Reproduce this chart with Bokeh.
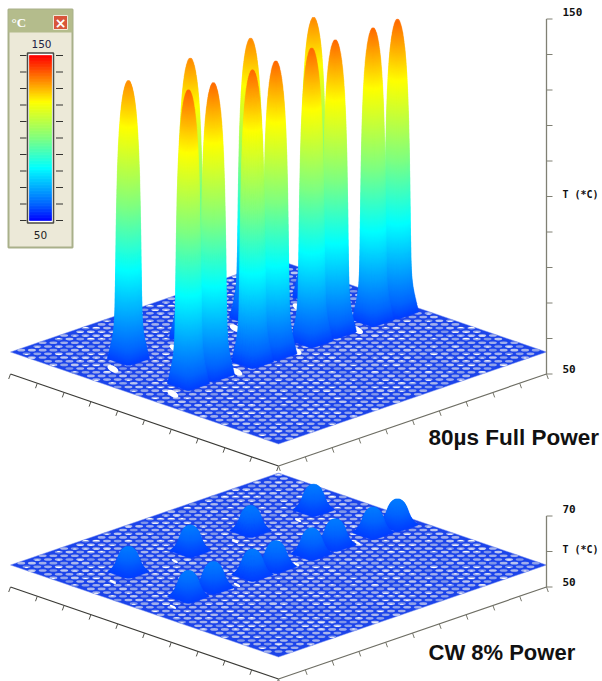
import numpy as np
from bokeh.plotting import figure
from bokeh.models import Range1d, ColumnDataSource
from bokeh.core.properties import value
from bokeh.embed import file_html
from bokeh.resources import INLINE

# ---------- data ----------
PEAK_U = [0.815, 0.586, 0.365, 0.134, 0.838, 0.743, 0.600, 0.513, 0.376, 0.283, 0.147, 0.059]
PEAK_V = [0.255, 0.257, 0.261, 0.265, 0.502, 0.500, 0.503, 0.503, 0.500, 0.495, 0.500, 0.503]
FULL_POWER_T = [134.6, 135.0, 135.0, 135.0, 139.0, 138.5, 138.5, 138.7, 138.7, 138.5, 138.5, 138.7]
CW_POWER_T = [63.2, 63.3, 63.2, 63.3, 63.4, 63.4, 63.3, 63.4, 63.4, 63.4, 63.3, 63.4]
FLOOR_T = 56.2
FULL_T_TICKS = [50, 60, 70, 80, 90, 100, 110, 120, 130, 140, 150]
CW_T_TICKS = [50, 60, 70]
FULL_LABELS = ["150", "T (*C)", "50"]
CW_LABELS = ["70", "T (*C)", "50"]
TITLE_FULL = "80µs Full Power"
TITLE_CW = "CW 8% Power"
CMAP_T = [50, 60, 82, 100, 122, 150]
CMAP_R = [0, 0, 0, 128, 255, 255]
CMAP_G = [0, 100, 255, 255, 255, 0]
CMAP_B = [255, 255, 255, 128, 0, 0]
BAR_TICKS = [50, 60, 70, 80, 90, 100, 110, 120, 130, 140, 150]
# peaks whose outer (left) base corner shows a gap in the mesh
GAP_PEAKS = [0, 1, 2, 3, 4, 6, 8, 10]

# ---------- projection set-up ----------
CX, HALF_W, HALF_H, PX_PER_C = 278.0, 268.0, 92.0, 3.55
BACK_FULL, BACK_CW = 259.5, 472.5
N_MESH = 50


def proj(u, v, t, back):
    return CX + (np.asarray(v) - u) * HALF_W, back + (np.asarray(u) + v) * HALF_H - (np.asarray(t) - FLOOR_T) * PX_PER_C


def color(t):
    r = np.interp(t, CMAP_T, CMAP_R)
    g = np.interp(t, CMAP_T, CMAP_G)
    b = np.interp(t, CMAP_T, CMAP_B)
    return "#%02x%02x%02x" % (int(r), int(g), int(b))


p = figure(width=602, height=681, x_range=Range1d(0, 602), y_range=Range1d(681, 0),
           output_backend="svg", toolbar_location=None, min_border=0,
           margin=(0, 0, 0, 0), outline_line_color=None,
           background_fill_color="white", border_fill_color="white")
p.xaxis.visible = False
p.yaxis.visible = False
p.grid.visible = False


def draw_surface(back, tops, t_ticks, labels, gap_w, gap_h):
    cx, cy = proj([0, 1, 1, 0], [0, 0, 1, 1], [FLOOR_T] * 4, back)
    p.patch(cx.tolist(), cy.tolist(), fill_color="#1c44ea", line_color="#7f94f0", line_width=0.5)
    # mesh holes in a staggered lattice of rows (u+v) and columns (v-u)
    hx, hy, hc, gx, gy, gw = [], [], [], [], [], []
    shades = ["#a9b6ec", "#8fa2ea", "#b9c4f0", "#7f95e8", "#a0aeec"]
    for m in range(N_MESH):
        s = (m + 0.5) * 2 / N_MESH
        off = 0.5 if m % 2 else 0.0
        for k in range(-N_MESH, N_MESH):
            d = (k + off) * 2 / N_MESH
            if abs(d) + abs(s - 1) > 0.992:
                continue
            u, v = (s - d) / 2, (s + d) / 2
            x, y = proj(u, v, FLOOR_T, back)
            hx.append(float(x)); hy.append(float(y))
            hc.append(shades[(k * 3 + m * 7 + k * m) % 5])
            if (k * k + 3 * m + m * m) % 7 in (0, 2, 3):
                gx.append(float(x)); gy.append(float(y) + (0.6 if m % 3 else -0.5))
                gw.append(3.0 + 3.2 * ((k + 2 * m) % 5) / 4)
    p.ellipse(hx, hy, width=8.0, height=2.6, fill_color=hc, line_color=None)
    p.ellipse(gx, gy, width=gw, height=1.0, fill_color="white", line_color=None)

    # gaps in the mesh beside the base corners
    ug = np.array(PEAK_U)[GAP_PEAKS] + 0.086
    vg = np.array(PEAK_V)[GAP_PEAKS] + 0.028
    x, y = proj(ug, vg, np.full(len(ug), FLOOR_T), back)
    p.ellipse(x, y, width=gap_w, height=gap_h, angle=-0.5, fill_color="white", line_color=None)

    # peaks as a stack of level contours, back to front
    px, py, pc = [], [], []
    order = np.argsort(np.array(PEAK_U) + np.array(PEAK_V))
    th = np.linspace(0, 2 * np.pi, 37)[:-1]
    for i in order:
        top = tops[i]
        n = int(max(10, (top - FLOOR_T) * PX_PER_C))
        for t in np.linspace(FLOOR_T + 0.02, top, n):
            f = (t - FLOOR_T) / (top - FLOOR_T)
            if top < 100:
                hw = 11.8 * (1 - f ** 2.6) ** 0.5 + 4.0 * (1 - f) ** 7
                m = 2 + 8 * (1 - f) ** 5
            else:
                hw = 11.3 * (1 - f ** 5) ** 0.5 + 2.8 * (1 - f) ** 1.5 + 1.8 * (1 - f) ** 14
                m = 2 + 10 * (1 - f) ** 30
            rho = hw / (HALF_W * 1.414)
            du = rho * np.sign(np.cos(th)) * np.abs(np.cos(th)) ** (2 / m)
            dv = rho * np.sign(np.sin(th)) * np.abs(np.sin(th)) ** (2 / m)
            x, y = proj(PEAK_U[i] + du, PEAK_V[i] + dv, np.full_like(th, t), back)
            px.append(x.round(1).tolist()); py.append(y.round(1).tolist()); pc.append(color(t))
    src = ColumnDataSource(dict(xs=px, ys=py, c=pc))
    p.patches("xs", "ys", source=src, fill_color="c", line_color="c", line_width=0.6)

    # base axes
    t0 = t_ticks[0]
    lx, ly = proj([1, 1], [0, 1], [t0, t0], back)
    p.line(lx.tolist(), ly.tolist(), line_color="#3a3a36", line_width=1.2)
    rx, ry = proj([1, 0], [1, 1], [t0, t0], back)
    p.line(rx.tolist(), ry.tolist(), line_color="#6e6e64", line_width=1.2)
    tg = np.linspace(0, 1, 11)
    x, y = proj(np.ones(11), tg, np.full(11, t0), back)
    p.segment(x.tolist(), y.tolist(), (x - 1.8).tolist(), (y + 5).tolist(), line_color="#55554e", line_width=1)
    x, y = proj(tg, np.ones(11), np.full(11, t0), back)
    p.segment(x.tolist(), y.tolist(), (x + 1.8).tolist(), (y + 5).tolist(), line_color="#77776c", line_width=1)

    # temperature axis
    ax, ay = proj([0, 0], [1, 1], [t_ticks[0], t_ticks[-1]], back)
    p.line(ax.tolist(), ay.tolist(), line_color="#808074", line_width=1.3)
    x, y = proj(np.zeros(len(t_ticks)), np.ones(len(t_ticks)), np.array(t_ticks), back)
    p.segment(x.tolist(), y.tolist(), (x + 6).tolist(), y.tolist(), line_color="#808074", line_width=1)
    lab_y = [y[-1] - 7, (y[0] + y[-1]) / 2 - 2, y[0] - 5]
    sizes = ["11px", "10px", "11px"]
    for ly_, lab, sz in zip(lab_y, labels, sizes):
        p.text([562], [ly_], text=[lab], text_font=value("DejaVu Sans Mono"), text_font_style="bold",
               text_font_size=sz, text_color="#111111", text_baseline="middle", text_align="left")


draw_surface(BACK_FULL, FULL_POWER_T, FULL_T_TICKS, FULL_LABELS, 12, 6)
draw_surface(BACK_CW, CW_POWER_T, CW_T_TICKS, CW_LABELS, 7, 2.5)

p.text([428], [437], text=[TITLE_FULL], text_font=value("Liberation Sans"), text_font_style="bold",
       text_font_size="22.5px", text_color="#111111", text_baseline="middle", text_align="left")
p.text([428], [652], text=[TITLE_CW], text_font=value("Liberation Sans"), text_font_style="bold",
       text_font_size="22px", text_color="#111111", text_baseline="middle", text_align="left")

# ---------- colour-scale window ----------
p.quad(left=[8], right=[72], top=[9], bottom=[247], fill_color="#ece9d8", line_color="#a9b08a", line_width=2)
p.quad(left=[8], right=[72], top=[9], bottom=[32], fill_color="#b4bc8c", line_color=None)
p.quad(left=[53], right=[67], top=[15], bottom=[29], fill_color="#d8553a", line_color="#f0e8d8", line_width=1)
p.text([60], [22], text=["×"], text_font=value("DejaVu Sans"), text_font_style="bold", text_font_size="14px",
       text_color="white", text_align="center", text_baseline="middle")
p.text([11], [22], text=["°C"], text_font=value("Liberation Serif"), text_font_style="bold", text_font_size="13px",
       text_color="white", text_align="left", text_baseline="middle")
p.text([41], [43], text=[str(BAR_TICKS[-1])], text_font=value("DejaVu Sans"), text_font_size="10.5px",
       text_color="#222244", text_align="center", text_baseline="middle")
p.text([40], [234], text=[str(BAR_TICKS[0])], text_font=value("DejaVu Sans"), text_font_size="10.5px",
       text_color="#222222", text_align="center", text_baseline="middle")
BAR_Y0, BAR_Y1 = 220.0, 55.0
bar_y = lambda t: BAR_Y0 + (np.asarray(t, dtype=float) - BAR_TICKS[0]) / (BAR_TICKS[-1] - BAR_TICKS[0]) * (BAR_Y1 - BAR_Y0)
p.quad(left=[27], right=[53], top=[52.5], bottom=[222.5], fill_color="white", line_color="#4a4a44", line_width=1.5)
lev = np.linspace(BAR_TICKS[0], BAR_TICKS[-1], 111)
cols = [color(t) for t in (lev[:-1] + lev[1:]) / 2]
p.quad(left=np.full(110, 29.0), right=np.full(110, 51.0), bottom=bar_y(lev[:-1]), top=bar_y(lev[1:]),
       fill_color=cols, line_color=cols, line_width=0.7)
ty = bar_y(BAR_TICKS)
p.segment(np.full(11, 19.5), ty, np.full(11, 26.0), ty, line_color="#333330", line_width=1)
p.segment(np.full(11, 55.5), ty, np.full(11, 62.5), ty, line_color="#333330", line_width=1)

open("out.html", "w").write(file_html(p, INLINE))
